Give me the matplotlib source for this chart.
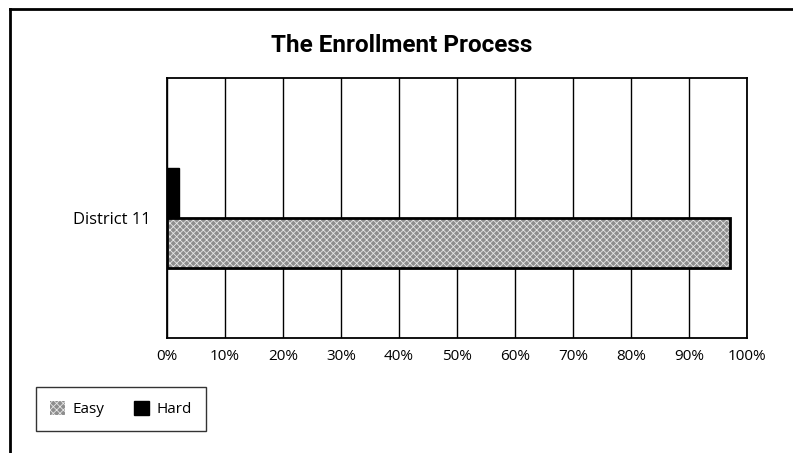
import matplotlib.pyplot as plt
from matplotlib.patches import Patch
from matplotlib.lines import Line2D

plt.rcParams['font.family'] = ['Open Sans', 'DejaVu Sans']
plt.rcParams['hatch.linewidth'] = 0.6

category = ["District 11"]
easy = [97]
hard = [2]
ticks = [0, 10, 20, 30, 40, 50, 60, 70, 80, 90, 100]
tick_labels = [f"{t}%" for t in ticks]

fig = plt.figure(figsize=(7.93, 4.53), dpi=100)
ax = fig.add_axes([167/793, 1-338/453, 580/793, 260/453])

# hard bar above, easy bar below
ax.barh([0.25], hard, height=0.5, left=0, color="black", edgecolor="black", linewidth=1, zorder=3)
ax.barh([-0.25], easy, height=0.5, left=0, color="#8e8e8e", edgecolor="#e6e6e6",
        hatch="xxxxx", linewidth=0, zorder=3)
ax.barh([-0.25], easy, height=0.5, left=0, fill=False, edgecolor="black", linewidth=2, zorder=4)

ax.set_xlim(0, 100)
ax.set_ylim(-1.2, 1.4)
ax.set_xticks(ticks)
ax.set_xticklabels(tick_labels, fontsize=11)
ax.set_yticks([0])
ax.set_yticklabels(category, fontsize=12)
ax.tick_params(length=0, pad=8)
ax.tick_params(axis="y", pad=12)
for t in ticks:
    ax.axvline(t, color="black", linewidth=1.0, zorder=2)
for s in ax.spines.values():
    s.set_linewidth(1.3)

fig.text(402/793, 1-45/453, "The Enrollment Process", ha="center", va="center",
         fontsize=17.5, fontweight="bold", family=["Roboto", "DejaVu Sans"])

handles = [Patch(facecolor="#8e8e8e", edgecolor="#e6e6e6", hatch="xxxxx", linewidth=0),
           Patch(facecolor="black", edgecolor="black")]
leg = fig.legend(handles, ["Easy", "Hard"], loc="center left", bbox_to_anchor=(36/793, 1-409/453),
                 ncol=2, fontsize=11, frameon=True, fancybox=False, edgecolor="black",
                 handlelength=1.0, handleheight=1.0, columnspacing=1.9, borderpad=0.9,
                 handletextpad=0.5, borderaxespad=0)
leg.get_frame().set_linewidth(1.0)

# figure border (top and left)
fig.add_artist(Line2D([10/793, 1], [1-9/453, 1-9/453], color="black", linewidth=2, transform=fig.transFigure))
fig.add_artist(Line2D([10/793, 10/793], [0, 1-9/453], color="black", linewidth=2, transform=fig.transFigure))

fig.savefig("out.png", dpi=100)
